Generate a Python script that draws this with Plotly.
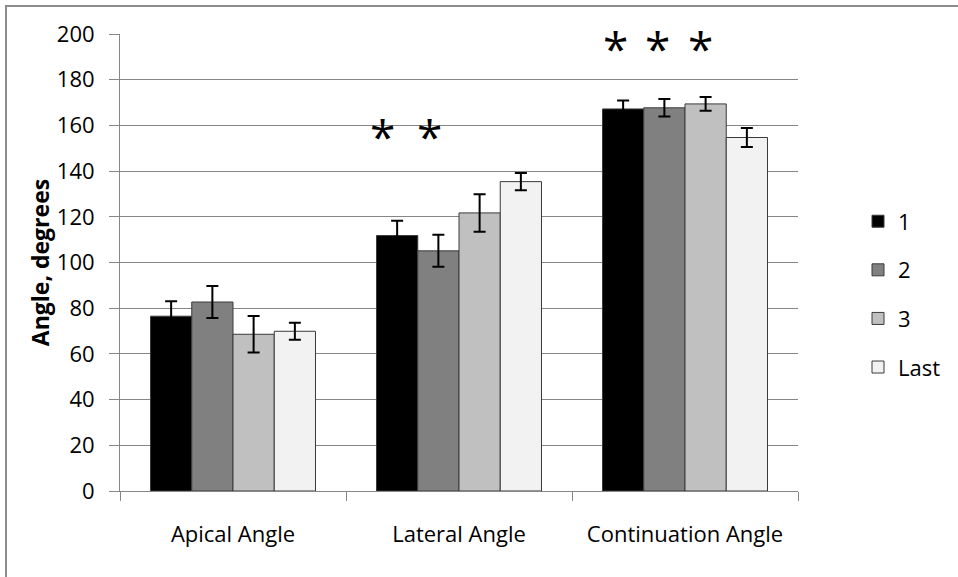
import plotly.graph_objects as go

categories = ["Apical Angle", "Lateral Angle", "Continuation Angle"]
series_names = ["1", "2", "3", "Last"]
series_1 = [76.5, 111.8, 167.2]
series_2 = [82.7, 105.1, 167.7]
series_3 = [68.6, 121.7, 169.4]
series_last = [69.9, 135.4, 154.7]
err_1 = [6.5, 6.5, 3.7]
err_2 = [7.0, 7.0, 3.8]
err_3 = [8.0, 8.2, 3.0]
err_last = [3.7, 3.8, 4.2]
y_ticks = [0, 20, 40, 60, 80, 100, 120, 140, 160, 180, 200]

values = [series_1, series_2, series_3, series_last]
errors = [err_1, err_2, err_3, err_last]
colors = ["#000000", "#808080", "#C0C0C0", "#F2F2F2"]

FONT = "Open Sans"
fig = go.Figure()
for name, v, e, c in zip(series_names, values, errors, colors):
    fig.add_trace(go.Bar(
        x=categories, y=v, name=name, legendgroup=name,
        marker=dict(color=c, line=dict(color="#3a3a3a", width=1)),
        error_y=dict(type="data", array=e, visible=True, color="#000000",
                     thickness=2, width=6),
    ))

# significance asterisks
stars = [(0.66, 156.5), (0.868, 156.5), (1.694, 195.1), (1.878, 195.1), (2.07, 195.1)]
for sx, sy in stars:
    fig.add_annotation(x=sx, y=sy, xref="x", yref="y", text="*", showarrow=False,
                       font=dict(family=FONT, size=46, color="#000000"),
                       xanchor="center", yanchor="middle", yshift=-3)

# outer chart border
fig.add_shape(type="rect", xref="paper", yref="paper",
              x0=(6 - 120) / 678, x1=2.0, y0=-1.0, y1=(491 - 5) / 458,
              line=dict(color="#8c8c8c", width=2), fillcolor="rgba(0,0,0,0)", layer="below")

fig.update_layout(
    width=958, height=577,
    margin=dict(l=120, r=160, t=34, b=86),
    paper_bgcolor="white", plot_bgcolor="white",
    barmode="group", bargap=0.27, bargroupgap=0,
    font=dict(family=FONT, size=22, color="#000000"),
    legend=dict(x=(858 - 120) / 678, y=(491 - 294) / 458, xanchor="left", yanchor="middle",
                tracegroupgap=17, font=dict(family=FONT, size=22, color="#000000"),
                bgcolor="rgba(0,0,0,0)"),
    showlegend=True,
)
fig.update_yaxes(
    range=[0, 200], tickvals=y_ticks, ticktext=[str(t) for t in y_ticks],
    showline=True, linecolor="#868686", linewidth=1,
    showgrid=True, gridcolor="#868686", gridwidth=1,
    ticks="outside", ticklen=10, tickcolor="#868686",
    ticklabelstandoff=10,
    zeroline=False,
    title=dict(text="<b>Angle, degrees</b>", font=dict(family=FONT, size=23, color="#000000"), standoff=0),
)
fig.update_xaxes(
    showline=True, linecolor="#868686", linewidth=1,
    ticks="outside", ticklen=9, tickcolor="#868686", tickson="boundaries",
    ticklabelstandoff=24,
    showgrid=False,
)

fig.write_html("out.html")
